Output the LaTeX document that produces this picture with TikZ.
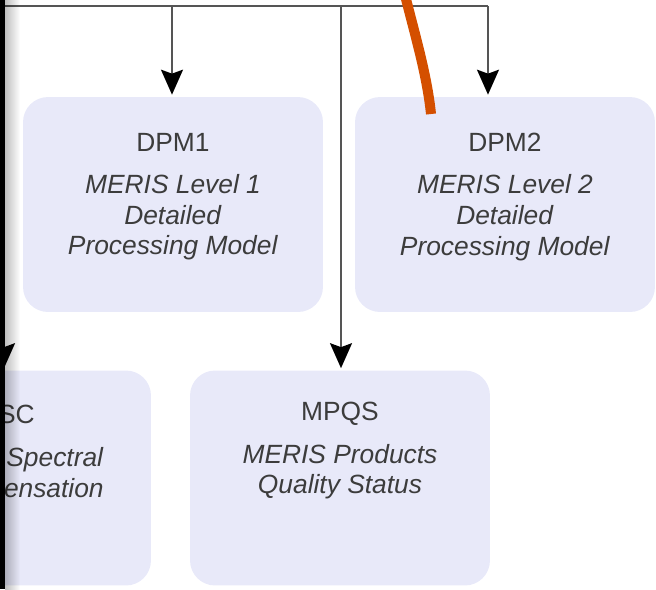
\documentclass[tikz,border=0pt]{standalone}
\usepackage{fontspec}
\setmainfont{Liberation Sans}
\usetikzlibrary{arrows.meta,positioning}
\definecolor{boxfill}{HTML}{E8E9F9}
\definecolor{linegray}{HTML}{555555}
\definecolor{textgray}{HTML}{3C3C3C}
\definecolor{markred}{HTML}{D44F00}

\begin{document}
\begin{tikzpicture}[x=0.02cm, y=-0.02cm,
	panel/.style={fill=boxfill, draw=none, rounded corners=0.5cm, minimum width=6cm, minimum height=4.3cm, inner sep=0pt},
	paneltext/.style={text=textgray, font=\fontsize{15}{17.5}\selectfont, align=center, inner sep=0pt},
	bus/.style={draw=linegray, line width=0.04cm},
	feed/.style={bus, -{Stealth[length=0.5cm, width=0.44cm, inset=0.08cm, color=black]}, shorten >=0.04cm}]
		%%%%% START %%%%%
		
		\useasboundingbox (0,0) rectangle (656,589);
		\clip (0,0) rectangle (656,589);
		
		\node[panel] (dpm1) at (173,204.5) {};
		\node[panel] (dpm2) at (505,204.5) {};
		\node[panel] (mpqs) at (340,478) {};
		\node[panel] (sc) at (1,478) {};
		
		\node[paneltext, below=0.72cm of dpm1.north] (dpm1txt) {DPM1\\[6.5pt]\textit{MERIS Level 1}\\\textit{Detailed}\\\textit{Processing Model}};
		\node[paneltext, below=0.72cm of dpm2.north] (dpm2txt) {DPM2\\[6.5pt]\textit{MERIS Level 2}\\\textit{Detailed}\\\textit{Processing Model}};
		\node[paneltext, below=0.64cm of mpqs.north] (mpqstxt) {MPQS\\[6.5pt]\textit{MERIS Products}\\\textit{Quality Status}};
		
		\node[paneltext, anchor=north east] (sctitle) at (35,405) {SC};
		\node[paneltext, anchor=north east, align=right] (sctxt) at (104,447) {\textit{Spectral}\\\textit{ensation}};
		
		\coordinate (busW) at (4,6);
		\coordinate (busL) at (172,6);
		\coordinate (busM) at (341,6);
		\coordinate (busR) at (488,6);
		
		\draw[bus] (busW) -- (busR);
		\draw[feed] (busL) -- (busL |- dpm1.north);
		\draw[feed] (busM) -- (busM |- mpqs.north);
		\draw[feed] (busR) -- (busR |- dpm2.north);
		\draw[feed] (busW) -- (busW |- sc.north);
		
		\draw[markred, line width=0.2cm] (405,-5) .. controls (415,35) and (427,75) .. (431,114);
		
		\shade[left color=black!25, right color=white, blend mode=multiply] (5,0) rectangle (20,589);
		\draw[black, line width=0.1cm] (2.5,0) -- (2.5,589);
		
		%%%%% END %%%%%
	\end{tikzpicture}
\end{document}
